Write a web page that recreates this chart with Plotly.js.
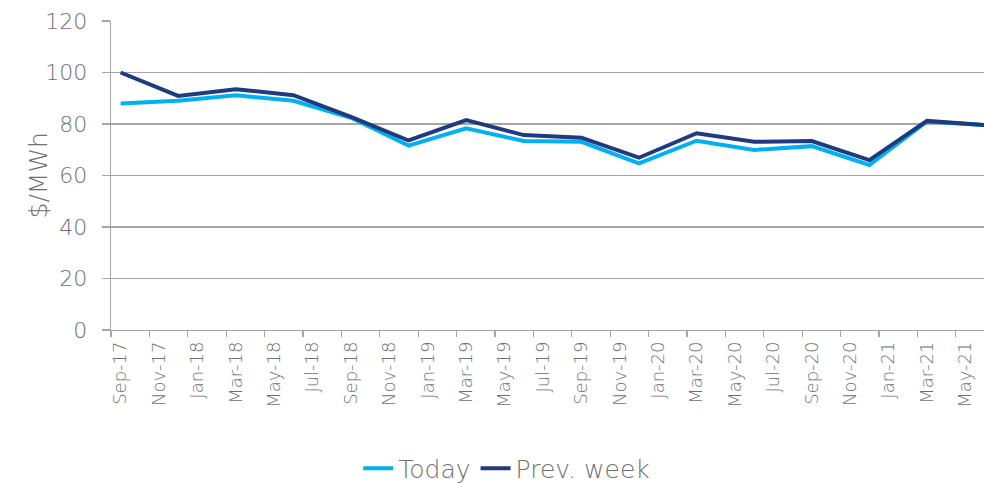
<!DOCTYPE html>
<html>
<head>
<meta charset="utf-8">
<script src="https://cdn.plot.ly/plotly-3.0.1.min.js"></script>
<style>html,body{margin:0;padding:0;background:#fff;}#chart{width:984px;height:483px;}</style>
</head>
<body>
<div id="chart"></div>
<script>
// Data (quarterly observations)
var months = ['Sep-17','Dec-17','Mar-18','Jun-18','Sep-18','Dec-18','Mar-19','Jun-19','Sep-19','Dec-19','Mar-20','Jun-20','Sep-20','Dec-20','Mar-21','Jun-21'];
var today = [88.0, 89.0, 91.2, 89.0, 82.4, 71.6, 78.3, 73.4, 73.1, 64.7, 73.5, 69.9, 71.4, 64.1, 81.0, 79.6];
var prevWeek = [100.0, 90.9, 93.5, 91.2, 82.8, 73.6, 81.5, 75.7, 74.7, 66.9, 76.4, 73.1, 73.4, 66.0, 81.2, 79.6];
// Axis tick labels (every two months)
var tickLabels = ['Sep-17','Nov-17','Jan-18','Mar-18','May-18','Jul-18','Sep-18','Nov-18','Jan-19','Mar-19','May-19','Jul-19','Sep-19','Nov-19','Jan-20','Mar-20','May-20','Jul-20','Sep-20','Nov-20','Jan-21','Mar-21','May-21'];
var seriesNames = ['Today', 'Prev. week'];
var yTitle = '$/MWh';

var monNames = ['Jan','Feb','Mar','Apr','May','Jun','Jul','Aug','Sep','Oct','Nov','Dec'];
function monthIndex(lbl) {
  var p = lbl.split('-');
  var m = monNames.indexOf(p[0]);
  var y = 2000 + parseInt(p[1], 10);
  return (y - 2017) * 12 + (m - 8);
}
var xs = months.map(monthIndex);
var tickPos = tickLabels.map(monthIndex);
var boundaryPos = tickPos.map(function (v) { return v - 0.5; });

var font = "'DejaVu Sans', sans-serif";
var txt = '#707070';
var grid = '#a6a6a6';

var traces = [
  {x: xs, y: today, name: seriesNames[0], type: 'scatter', mode: 'lines',
   line: {color: '#00b0f0', width: 4}},
  {x: xs, y: prevWeek, name: seriesNames[1], type: 'scatter', mode: 'lines',
   line: {color: '#1f3a7d', width: 4}}
];

var layout = {
  width: 984, height: 483,
  margin: {l: 111, r: 0, t: 21, b: 153},
  paper_bgcolor: '#fff', plot_bgcolor: '#fff',
  font: {family: font, color: txt, size: 19, weight: 200},
  showlegend: true,
  legend: {orientation: 'h', xref: 'container', yref: 'container', x: 0.515, xanchor: 'center',
           y: 0.03, yanchor: 'middle', font: {family: font, size: 25, color: txt, weight: 200}, tracegroupgap: 0},
  xaxis: {
    type: 'linear', range: [-0.5, 44.97], fixedrange: true,
    tickmode: 'array', tickvals: tickPos, ticktext: tickLabels, tickangle: -90,
    ticks: 'outside', ticklen: 3, tickcolor: 'rgba(0,0,0,0)',
    tickfont: {family: font, size: 18, color: txt, weight: 200},
    showgrid: false, zeroline: false,
    showline: true, linecolor: grid, linewidth: 1.3,
    minor: {tickmode: 'array', tickvals: boundaryPos, ticks: 'outside', ticklen: 6, tickcolor: grid, tickwidth: 1.3, showgrid: false}
  },
  yaxis: {
    range: [0, 120], dtick: 20, tick0: 0, fixedrange: true,
    ticks: 'outside', ticklen: 8, tickcolor: grid, tickwidth: 1.3,
    ticklabelstandoff: 10,
    showgrid: true, gridcolor: grid, gridwidth: 1.3, zeroline: false,
    showline: true, linecolor: grid, linewidth: 1.3,
    tickfont: {family: font, size: 22, color: txt, weight: 200}
  },
  annotations: [{
    text: yTitle, textangle: -90, showarrow: false,
    xref: 'paper', yref: 'paper', x: -0.0836, y: 0.5, xanchor: 'center', yanchor: 'middle',
    font: {family: font, size: 25, color: txt, weight: 200}
  }]
};

Plotly.newPlot('chart', traces, layout, {displayModeBar: false, staticPlot: true});
</script>
</body>
</html>
